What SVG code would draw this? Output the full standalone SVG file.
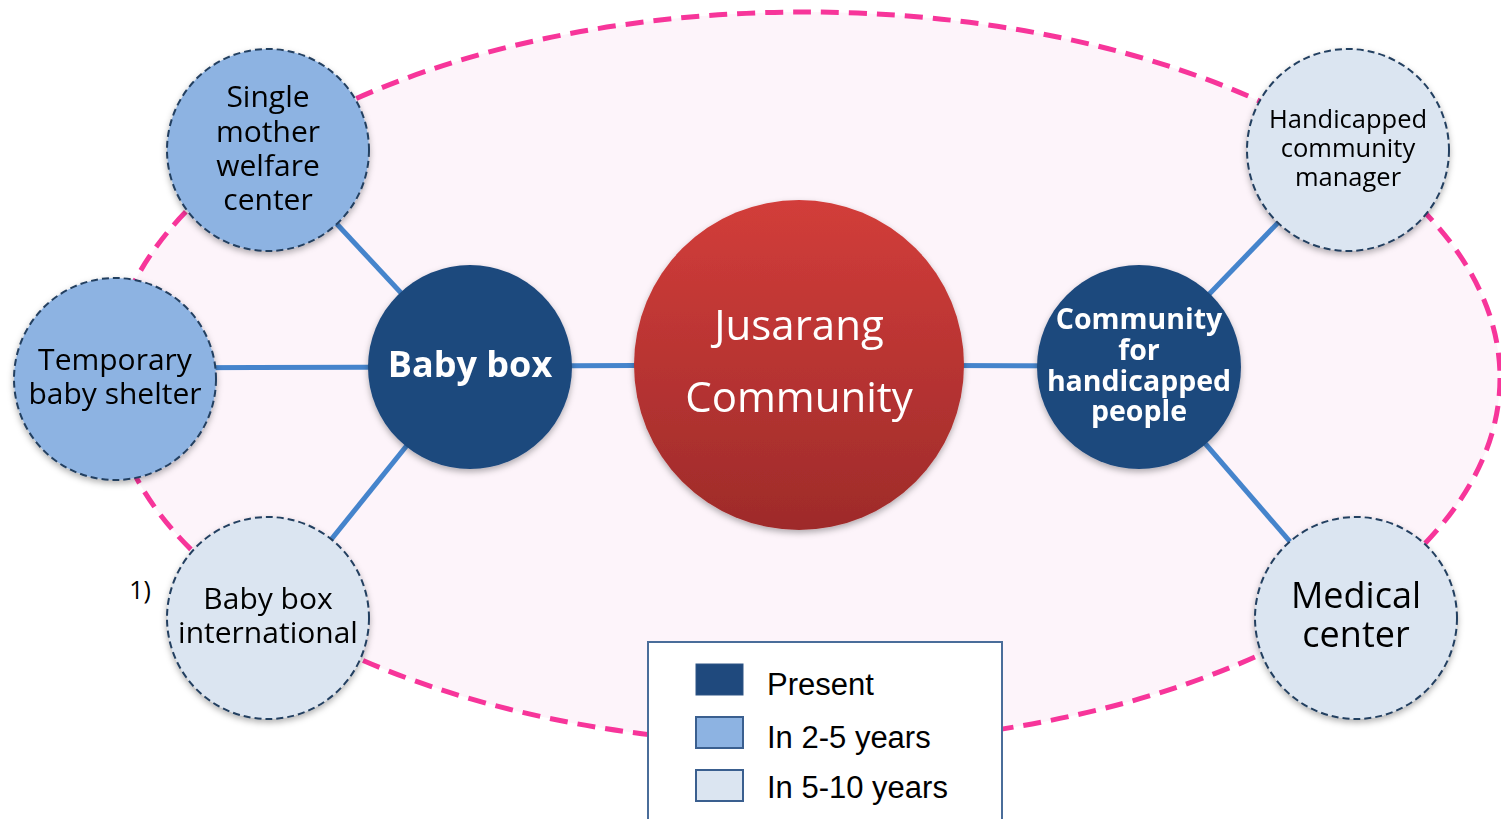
<svg xmlns="http://www.w3.org/2000/svg" width="1501" height="819" viewBox="0 0 1501 819">
<style>
.lbl{font-family:"Open Sans","Noto Sans","DejaVu Sans",sans-serif;text-anchor:middle;fill:#000}
.wh{fill:#fff}
.b{font-weight:bold}
.future{stroke:#243F60;stroke-width:2;stroke-dasharray:7 4}
.mid{fill:#8DB3E2}
.light{fill:#DBE5F1}
.present{fill:#1F497D}
.conn{stroke:#4584CC;stroke-width:5;fill:none}
.leg{font-family:"Liberation Sans",Arial,sans-serif;font-size:31px;fill:#000}
</style>
<defs>
<filter id="sh" x="-20%" y="-20%" width="140%" height="150%">
<feDropShadow dx="0" dy="3" stdDeviation="3" flood-color="#000" flood-opacity="0.3"/>
</filter>
<linearGradient id="red" x1="0" y1="0" x2="0" y2="1">
<stop offset="0" stop-color="#D23D3A"/>
<stop offset="1" stop-color="#9E2B2A"/>
</linearGradient>
</defs>
<rect width="1501" height="819" fill="#fff"/>
<ellipse id="boundary" cx="805" cy="378" rx="695" ry="366" fill="#FDF4FA" stroke="#F7359A" stroke-width="5" stroke-dasharray="18 10"/>
<g id="connectors">
<line class="conn" x1="268" y1="150" x2="470" y2="367"/>
<line class="conn" x1="115" y1="368" x2="470" y2="367"/>
<line class="conn" x1="268" y1="618" x2="470" y2="367"/>
<line class="conn" x1="470" y1="366" x2="799" y2="365"/>
<line class="conn" x1="799" y1="365" x2="1139" y2="366"/>
<line class="conn" x1="1139" y1="367" x2="1348" y2="150"/>
<line class="conn" x1="1139" y1="367" x2="1356" y2="618"/>
</g>
<g id="jusarang" filter="url(#sh)">
<circle cx="799" cy="365" r="165" fill="url(#red)"/>
<text class="lbl wh" font-size="42" x="799" y="340">Jusarang</text>
<text class="lbl wh" font-size="42" x="799" y="412">Community</text>
</g>
<g id="babybox" filter="url(#sh)">
<circle class="present" cx="470" cy="367" r="102"/>
<text class="lbl wh b" font-size="36" x="470" y="377">Baby box</text>
</g>
<g id="community-handicapped" filter="url(#sh)">
<circle class="present" cx="1139" cy="367" r="102"/>
<text class="lbl wh b" font-size="28.5" x="1139" y="329">Community</text>
<text class="lbl wh b" font-size="28.5" x="1139" y="360">for</text>
<text class="lbl wh b" font-size="28.5" x="1139" y="391">handicapped</text>
<text class="lbl wh b" font-size="28.5" x="1139" y="421">people</text>
</g>
<g id="single-mother" filter="url(#sh)">
<circle class="mid future" cx="268" cy="150" r="101"/>
<text class="lbl" font-size="30" x="268" y="107">Single</text>
<text class="lbl" font-size="30" x="268" y="142">mother</text>
<text class="lbl" font-size="30" x="268" y="176">welfare</text>
<text class="lbl" font-size="30" x="268" y="210">center</text>
</g>
<g id="temporary-shelter" filter="url(#sh)">
<circle class="mid future" cx="115" cy="379" r="101"/>
<text class="lbl" font-size="30" x="115" y="370">Temporary</text>
<text class="lbl" font-size="30" x="115" y="404">baby shelter</text>
</g>
<g id="babybox-international" filter="url(#sh)">
<circle class="light future" cx="268" cy="618" r="101"/>
<text class="lbl" font-size="30" x="268" y="609">Baby box</text>
<text class="lbl" font-size="30" x="268" y="643">international</text>
</g>
<text id="note" class="lbl" font-size="25" x="140" y="599">1)</text>
<g id="handicapped-manager" filter="url(#sh)">
<circle class="light future" cx="1348" cy="150" r="101"/>
<text class="lbl" font-size="25.5" x="1348" y="128">Handicapped</text>
<text class="lbl" font-size="25.5" x="1348" y="157">community</text>
<text class="lbl" font-size="25.5" x="1348" y="186">manager</text>
</g>
<g id="medical-center" filter="url(#sh)">
<circle class="light future" cx="1356" cy="618" r="101"/>
<text class="lbl" font-size="36" x="1356" y="608">Medical</text>
<text class="lbl" font-size="36" x="1356" y="647">center</text>
</g>
<g id="legend">
<rect x="648" y="642" width="354" height="190" fill="#fff" stroke="#4A6D9A" stroke-width="2"/>
<rect x="696" y="664" width="47" height="31" fill="#1F497D" stroke="#2E5585" stroke-width="1"/>
<rect x="696" y="717" width="47" height="31" fill="#8DB3E2" stroke="#3A5F8F" stroke-width="2"/>
<rect x="696" y="770" width="47" height="31" fill="#DBE5F1" stroke="#3A5F8F" stroke-width="2"/>
<text class="leg" x="767" y="695">Present</text>
<text class="leg" x="767" y="748">In 2-5 years</text>
<text class="leg" x="767" y="798">In 5-10 years</text>
</g>
</svg>
